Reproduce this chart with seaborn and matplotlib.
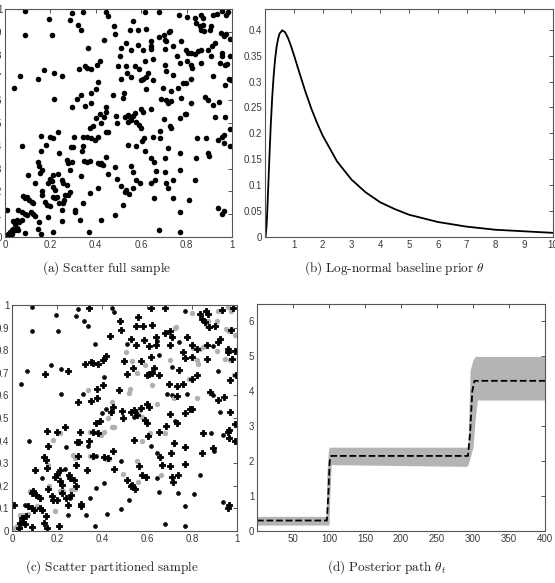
import numpy as np
import pandas as pd
import matplotlib
matplotlib.use("Agg")
import matplotlib.pyplot as plt
import seaborn as sns
from matplotlib.ticker import FuncFormatter

# ---- data ----
# scatter points, split into the three groups shown in panel (c)
gray_pts = [(0.802,0.965),(0.916,0.972),(0.958,0.99),(0.975,0.975),(0.723,0.897),(0.729,0.903),
            (0.872,0.931),(0.865,0.909),(0.909,0.927),(0.953,0.894),(0.963,0.883),(0.99,0.868),
            (0.806,0.809),(0.836,0.804),(0.85,0.814),(0.909,0.795),(0.506,0.792),(0.535,0.751),
            (0.704,0.755),(0.821,0.755),(0.825,0.74),(0.946,0.762),(0.968,0.755),(0.554,0.701),
            (0.591,0.736),(0.785,0.674),(0.987,0.692),(0.62,0.648),(0.337,0.623),(0.523,0.63),
            (0.52,0.611),(0.718,0.589),(0.821,0.587),(0.645,0.562),(0.444,0.572),(0.425,0.501),
            (0.565,0.531),(0.579,0.506),(0.444,0.462),(0.455,0.462),(0.411,0.44),(0.345,0.44),
            (0.396,0.425),(0.213,0.433),(0.18,0.403),(0.579,0.4),(0.612,0.433),(0.682,0.433),
            (0.161,0.293),(0.205,0.245),(0.271,0.337),(0.278,0.323),(0.348,0.333),(0.418,0.32),
            (0.432,0.317),(0.494,0.254),(0.554,0.311),(0.562,0.216),(0.66,0.249),(0.081,0.179),
            (0.117,0.154),(0.165,0.201),(0.191,0.088),(0.213,0.176),(0.227,0.176),(0.264,0.183),
            (0.278,0.186),(0.113,0.11),(0.037,0.069),(0.051,0.073),(0.073,0.076),(0.015,0.015),
            (0.022,0.022),(0.029,0.032),(0.044,0.029),(0.019,0.007),(0.007,0.003)]

small_pts = [(0.088,0.993),(0.293,0.982),(0.444,0.985),(0.455,0.968),(0.767,0.975),(0.195,0.957),
             (0.286,0.95),(0.32,0.93),(0.337,0.906),(0.707,0.865),(0.088,0.887),(0.205,0.887),
             (0.367,0.828),(0.513,0.828),(0.645,0.839),(0.74,0.836),(0.894,0.818),(0.652,0.78),
             (0.173,0.733),(0.066,0.707),(0.216,0.718),(0.711,0.726),(0.916,0.707),(0.04,0.652),
             (0.411,0.682),(0.315,0.606),(0.216,0.604),(0.711,0.601),(0.689,0.606),(0.777,0.608),
             (0.894,0.601),(0.418,0.54),(0.4,0.52),(0.55,0.525),(0.543,0.506),(0.726,0.487),
             (0.924,0.528),(0.075,0.4),(0.339,0.378),(0.239,0.37),(0.616,0.378),(0.884,0.433),
             (0.938,0.425),(0.897,0.355),(0.235,0.276),(0.374,0.333),(0.484,0.308),(0.521,0.139),
             (0.484,0.098),(0.421,0.076),(0.411,0.213),(0.374,0.191),(0.345,0.147),(0.33,0.073),
             (0.371,0.022),(0.645,0.345),(0.645,0.235),(0.655,0.173),(0.738,0.169),(0.836,0.249),
             (0.809,0.164),(0.77,0.11),(0.679,0.032),(0.77,0.022),(0.938,0.129),(0.132,0.235),
             (0.256,0.147),(0.249,0.069),(0.059,0.117)]

big_pts = [(0.342,0.985),(0.617,0.988),(0.679,0.988),(0.836,0.96),(0.864,0.972),(0.872,0.96),
           (0.934,0.977),(0.984,0.985),(0.48,0.927),(0.484,0.889),(0.55,0.909),(0.562,0.946),
           (0.584,0.909),(0.62,0.912),(0.679,0.877),(0.7,0.887),(0.777,0.858),(0.843,0.938),
           (0.858,0.924),(0.875,0.902),(0.902,0.909),(0.975,0.89),(0.437,0.865),(0.531,0.85),
           (0.553,0.821),(0.585,0.843),(0.609,0.818),(0.641,0.858),(0.641,0.824),(0.704,0.824),
           (0.711,0.858),(0.799,0.821),(0.821,0.806),(0.865,0.821),(0.914,0.836),(0.924,0.85),
           (0.958,0.806),(0.99,0.795),(0.758,0.792),(0.616,0.77),(0.418,0.773),(0.406,0.755),
           (0.499,0.752),(0.572,0.751),(0.77,0.765),(0.802,0.77),(0.865,0.762),(0.958,0.792),
           (0.978,0.759),(0.147,0.694),(0.249,0.707),(0.326,0.738),(0.353,0.748),(0.362,0.743),
           (0.381,0.738),(0.509,0.694),(0.539,0.721),(0.6,0.689),(0.609,0.695),(0.623,0.701),
           (0.63,0.721),(0.652,0.689),(0.74,0.711),(0.762,0.652),(0.799,0.674),(0.821,0.692),
           (0.968,0.667),(0.994,0.689),(0.696,0.652),(0.733,0.642),(0.403,0.648),(0.379,0.63),
           (0.293,0.569),(0.352,0.575),(0.377,0.587),(0.477,0.623),(0.733,0.597),(0.879,0.616),
           (0.916,0.579),(0.943,0.594),(0.601,0.56),(0.609,0.55),(0.447,0.55),(0.438,0.528),
           (0.488,0.531),(0.494,0.501),(0.529,0.528),(0.543,0.535),(0.557,0.513),(0.572,0.543),
           (0.591,0.491),(0.598,0.479),(0.701,0.518),(0.733,0.477),(0.77,0.523),(0.792,0.538),
           (0.799,0.54),(0.968,0.528),(0.99,0.474),(0.389,0.488),(0.374,0.477),(0.362,0.437),
           (0.381,0.433),(0.304,0.437),(0.235,0.462),(0.198,0.44),(0.157,0.444),(0.158,0.378),
           (0.289,0.396),(0.298,0.393),(0.342,0.4),(0.543,0.403),(0.605,0.422),(0.652,0.44),
           (0.718,0.389),(0.685,0.466),(0.77,0.37),(0.848,0.433),(0.958,0.44),(0.965,0.447),
           (0.965,0.411),(0.99,0.4),(0.894,0.367),(0.843,0.345),(0.144,0.327),(0.151,0.312),
           (0.154,0.279),(0.198,0.254),(0.213,0.271),(0.191,0.239),(0.252,0.249),(0.256,0.235),
           (0.286,0.293),(0.274,0.227),(0.293,0.33),(0.334,0.268),(0.362,0.33),(0.411,0.326),
           (0.425,0.323),(0.447,0.352),(0.455,0.276),(0.509,0.224),(0.528,0.198),(0.535,0.205),
           (0.547,0.188),(0.565,0.286),(0.579,0.249),(0.594,0.239),(0.308,0.12),(0.308,0.109),
           (0.656,0.327),(0.667,0.29),(0.704,0.286),(0.711,0.238),(0.716,0.216),(0.707,0.345),
           (0.77,0.296),(0.738,0.249),(0.958,0.1),(0.963,0.113),(0.088,0.169),(0.095,0.176),
           (0.107,0.161),(0.103,0.271),(0.125,0.147),(0.161,0.186),(0.176,0.154),(0.183,0.139),
           (0.198,0.136),(0.22,0.169),(0.239,0.147),(0.26,0.161),(0.286,0.198),(0.249,0.117),
           (0.21,0.022),(0.151,0.066),(0.144,0.037),(0.157,0.015),(0.073,0.11),(0.088,0.103),
           (0.098,0.095),(0.125,0.103),(0.132,0.091),(0.01,0.117),(0.044,0.059),(0.063,0.066),
           (0.088,0.018),(0.037,0.037),(0.051,0.04),(0.029,0.015),(0.059,0.029),(0.213,0.22),
           (0.22,0.205)]

# log-normal prior density
prior_x = [0, 0.02, 0.05, 0.075, 0.1, 0.15, 0.2, 0.25, 0.3, 0.35, 0.4, 0.45, 0.5, 0.6, 0.7,
           0.8, 0.9, 1.0, 1.2, 1.4, 1.6, 1.8, 2.0, 2.5, 3.0, 3.5, 4.0, 4.5, 5.0, 6.0, 7.0,
           8.0, 9.0, 10.0]
prior_y = [0, 0.001, 0.018, 0.045, 0.079, 0.150, 0.216, 0.269, 0.311, 0.343, 0.366, 0.381,
           0.392, 0.399, 0.395, 0.384, 0.369, 0.352, 0.316, 0.281, 0.249, 0.221, 0.196,
           0.146, 0.111, 0.086, 0.067, 0.054, 0.043, 0.029, 0.020, 0.014, 0.011, 0.008]

# posterior path: mean and band
mean_t = [0, 97, 99, 101, 103, 293, 296, 299, 302, 400]
mean_v = [0.3, 0.3, 1.0, 2.0, 2.15, 2.15, 2.8, 4.0, 4.3, 4.3]
band_t = [0, 96, 97, 99, 100, 101, 103, 291, 293, 296, 300, 303, 306, 400]
band_hi = [0.42, 0.42, 1.6, 2.25, 2.4, 2.4, 2.4, 2.4, 2.45, 4.6, 4.9, 5.0, 5.0, 5.0]
band_lo = [0.17, 0.17, 0.17, 0.17, 0.17, 0.9, 1.9, 1.85, 1.9, 2.1, 2.4, 3.2, 3.75, 3.75]

sns.set_style("white")
plt.rcParams["font.family"] = ["Liberation Sans", "DejaVu Sans"]
plt.rcParams["mathtext.fontset"] = "cm"

tick_col = "#3a3a3a"


def matlab_axes(ax):
    for s in ax.spines.values():
        s.set_color("#555555")
        s.set_linewidth(0.8)
    ax.tick_params(direction="in", top=True, right=True, length=3, width=0.6,
                   colors=tick_col, labelsize=7, pad=2)
    ax.xaxis.set_major_formatter(FuncFormatter(lambda v, p: f"{v:g}"))
    ax.yaxis.set_major_formatter(FuncFormatter(lambda v, p: f"{v:g}"))
    ax.set_xlabel("")
    ax.set_ylabel("")


def to_df(pts):
    return pd.DataFrame(pts, columns=["x", "y"])


full = pd.concat([to_df(gray_pts), to_df(small_pts), to_df(big_pts)], ignore_index=True)

fig = plt.figure(figsize=(5.55, 5.83), dpi=100)
ax_a = fig.add_axes([5/555, 1-237/583, 227/555, 228/583])
ax_b = fig.add_axes([265/555, 1-237/583, 288/555, 228/583])
ax_c = fig.add_axes([12/555, 1-531/583, 225/555, 226/583])
ax_d = fig.add_axes([257/555, 1-531/583, 288/555, 227/583])

# (a) full sample
sns.scatterplot(data=full, x="x", y="y", ax=ax_a, color="black", s=16,
                edgecolor="black", linewidth=0)
ax_a.set_xlim(0, 1)
ax_a.set_ylim(0, 1)
ax_a.set_xticks(np.arange(0, 1.01, 0.2))
ax_a.set_yticks(np.arange(0, 1.01, 0.1))
matlab_axes(ax_a)

# (b) log-normal prior
sns.lineplot(x=prior_x, y=prior_y, ax=ax_b, color="black", linewidth=1.3)
ax_b.set_xlim(0, 10)
ax_b.set_ylim(0, 0.44)
ax_b.set_xticks(range(1, 11))
ax_b.set_yticks(np.arange(0, 0.41, 0.05))
matlab_axes(ax_b)

# (c) partitioned sample
sns.scatterplot(data=to_df(small_pts), x="x", y="y", ax=ax_c, color="black", marker="P",
                s=7, edgecolor="black", linewidth=0.4)
sns.scatterplot(data=to_df(gray_pts), x="x", y="y", ax=ax_c, color="#b0b0b0", marker="o",
                s=15, linewidth=0)
sns.scatterplot(data=to_df(big_pts), x="x", y="y", ax=ax_c, color="black", marker="P",
                s=20, edgecolor="black", linewidth=0.6)
ax_c.set_xlim(0, 1)
ax_c.set_ylim(0, 1)
ax_c.set_xticks(np.arange(0, 1.01, 0.2))
ax_c.set_yticks(np.arange(0, 1.01, 0.1))
matlab_axes(ax_c)

# (d) posterior path
ax_d.fill_between(band_t, band_lo, band_hi, color="#b4b4b4", linewidth=0)
sns.lineplot(x=mean_t, y=mean_v, ax=ax_d, color="black", linewidth=1.3, linestyle="--")
ax_d.set_xlim(0, 400)
ax_d.set_ylim(0, 6.5)
ax_d.set_xticks(range(50, 401, 50))
ax_d.set_yticks(range(0, 7))
matlab_axes(ax_d)

cap = dict(ha="center", va="center", fontsize=9.5, color="#222222")
fig.text(107/555, 1-268/583, r"$\mathrm{(a)\ Scatter\ full\ sample}$", **cap)
fig.text(394/555, 1-268/583, r"$\mathrm{(b)\ Log\text{-}normal\ baseline\ prior}\ \theta$", **cap)
fig.text(112/555, 1-567/583, r"$\mathrm{(c)\ Scatter\ partitioned\ sample}$", **cap)
fig.text(387/555, 1-567/583, r"$\mathrm{(d)\ Posterior\ path}\ \theta_t$", **cap)

fig.savefig("out.png", dpi=100)
